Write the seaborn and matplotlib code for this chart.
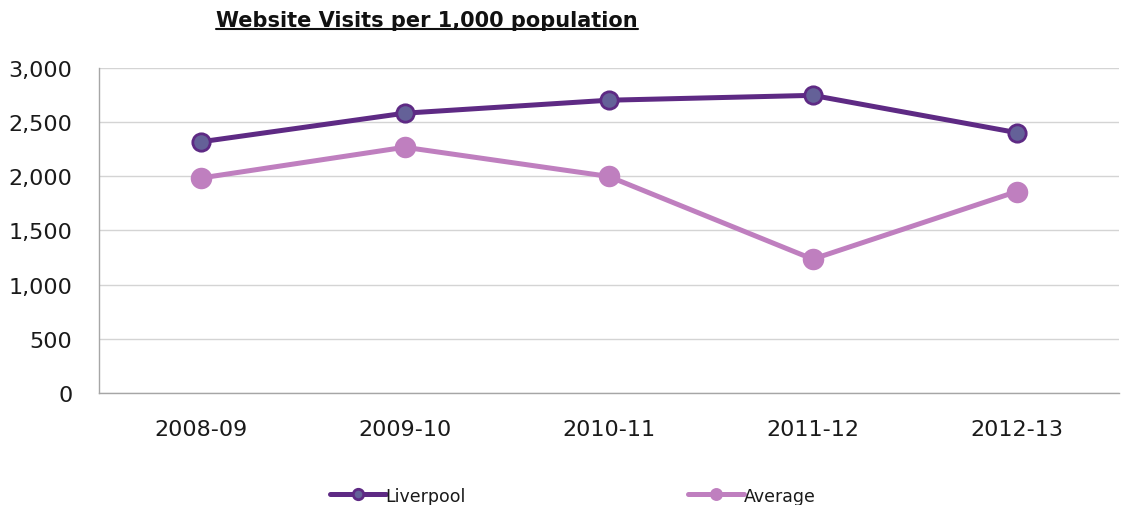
import numpy as np
import pandas as pd
import matplotlib
matplotlib.use("Agg")
import matplotlib.pyplot as plt
import seaborn as sns
from matplotlib.ticker import FuncFormatter

# --- data ---
years = ["2008-09", "2009-10", "2010-11", "2011-12", "2012-13"]
liverpool = [2320, 2585, 2705, 2750, 2405]
average = [1985, 2270, 2000, 1235, 1860]

df = pd.DataFrame({"Year": years * 2,
                   "Visits": liverpool + average,
                   "Area": ["Liverpool"] * 5 + ["Average"] * 5})

sns.set_theme(style="white")
plt.rcParams["font.family"] = ["DejaVu Sans"]

fig, ax = plt.subplots(figsize=(11.21, 5.06), dpi=100)
fig.subplots_adjust(left=0.088, right=0.998, top=0.863, bottom=0.222)

styles = {
    "Liverpool": dict(color="#5E2A84", mfc="#646198", mec="#5E2A84", mew=2.0, ms=12.5),
    "Average": dict(color="#BF7FBF", mfc="#BF7FBF", mec="#BF7FBF", mew=0, ms=15.5),
}
for name in ["Liverpool", "Average"]:
    sub = df[df["Area"] == name]
    st = styles[name]
    ax.plot(sub["Year"], sub["Visits"], color=st["color"], lw=3.6, marker="o",
            markersize=st["ms"], markerfacecolor=st["mfc"],
            markeredgecolor=st["mec"], markeredgewidth=st["mew"],
            label=name, zorder=3)

ax.set_xlim(-0.5, 4.5)
ax.set_ylim(0, 3000)
ax.set_yticks(np.arange(0, 3001, 500))
ax.yaxis.set_major_formatter(FuncFormatter(lambda v, p: f"{v:,.0f}"))
ax.yaxis.grid(True, color="#D4D4D4", lw=1)
ax.set_axisbelow(True)
for s in ["top", "right"]:
    ax.spines[s].set_visible(False)
for s in ["left", "bottom"]:
    ax.spines[s].set_color("#A6A6A6")
    ax.spines[s].set_linewidth(1)
ax.tick_params(axis="both", labelsize=16, colors="#1A1A1A", length=0)
ax.tick_params(axis="x", pad=19)
ax.tick_params(axis="y", pad=19)
ax.set_xlabel("")
ax.set_ylabel("")

title = fig.text(0.381, 0.958, "Website Visits per 1,000 population",
                 ha="center", va="center", fontsize=15, fontweight="bold",
                 color="#111111")
fig.canvas.draw()
bb = title.get_window_extent().transformed(fig.transFigure.inverted())
fig.add_artist(plt.Line2D([bb.x0, bb.x1], [bb.y0 + 0.002, bb.y0 + 0.002],
                          transform=fig.transFigure, color="#111111", lw=1.5))

leg = fig.legend(loc="lower center", bbox_to_anchor=(0.511, -0.03), ncol=2,
                 frameon=False, fontsize=12.5, columnspacing=12.8,
                 handlelength=3.2, handletextpad=0.0, markerscale=0.6)
for t in leg.get_texts():
    t.set_color("#1A1A1A")

fig.savefig("out.png", dpi=100)
